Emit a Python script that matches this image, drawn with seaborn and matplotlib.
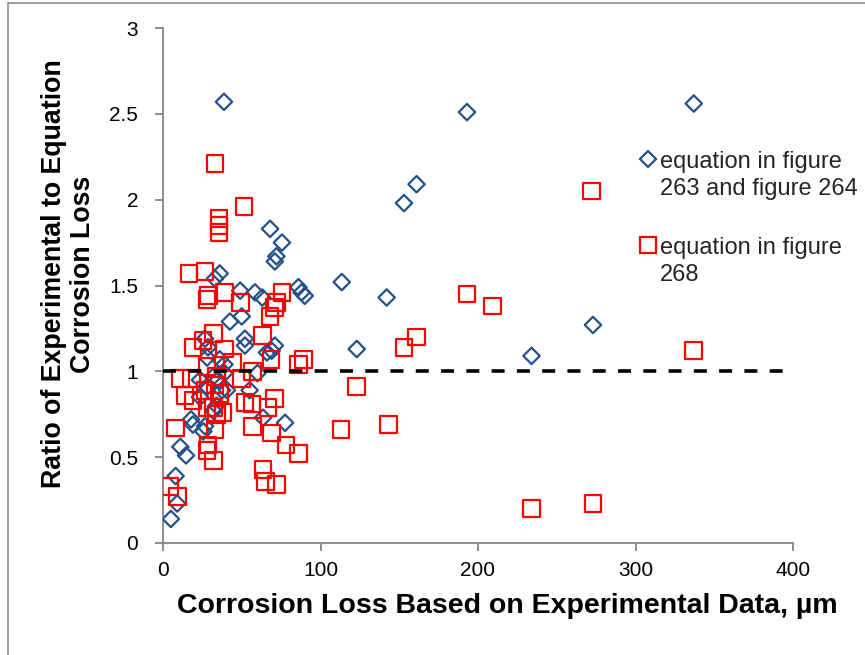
import matplotlib
matplotlib.use("Agg")
import matplotlib.pyplot as plt
import seaborn as sns
from matplotlib.lines import Line2D

# Corrosion loss (µm) and experimental/equation ratio, equation of figures 263 & 264
loss_eq263 = [5, 9, 8, 11, 14.6, 17.8, 19, 25.6, 26.7, 32, 34, 23.5, 28, 37.5, 40.6,
              39, 32, 35, 23.5, 28, 36, 39, 26.7, 28.6, 42.5, 50, 52, 52, 55, 60,
              63.5, 77.5, 66, 69, 71, 33, 36, 49, 58.4, 63, 86, 88, 90, 72, 71,
              75.5, 68, 38.7, 193, 337, 161, 153, 113.5, 142, 123, 273, 234]
ratio_eq263 = [0.14, 0.23, 0.39, 0.56, 0.51, 0.72, 0.69, 0.65, 0.68, 0.77, 0.80, 0.85, 0.91, 0.89, 0.89,
               0.99, 0.97, 0.95, 0.95, 1.08, 1.07, 1.04, 1.19, 1.14, 1.29, 1.32, 1.19, 1.15, 0.89, 0.99,
               0.73, 0.70, 1.11, 1.12, 1.15, 1.54, 1.57, 1.47, 1.46, 1.43, 1.49, 1.46, 1.44, 1.67, 1.64,
               1.75, 1.83, 2.57, 2.51, 2.56, 2.09, 1.98, 1.52, 1.43, 1.13, 1.27, 1.09]

# Corrosion loss (µm) and experimental/equation ratio, equation of figure 268
loss_eq268 = [33, 51.4, 35.6, 35.6, 35.6, 272, 193, 209, 161, 153, 337, 123, 113, 143, 86,
              234, 273, 89, 86, 16.5, 26.7, 29, 28, 39, 75.5, 49, 72, 71, 68, 32,
              25.5, 19, 39, 63, 44, 68.6, 57, 28, 11, 18, 34, 50, 19, 14, 26.7,
              33, 36, 38, 32, 34, 28, 52, 56.5, 71, 66.7, 57, 69, 78, 8, 33,
              28.6, 28, 32, 63.5, 65, 72, 4.4, 9]
ratio_eq268 = [2.21, 1.96, 1.89, 1.85, 1.81, 2.05, 1.45, 1.38, 1.20, 1.14, 1.12, 0.91, 0.66, 0.69, 0.52,
               0.20, 0.23, 1.07, 1.04, 1.57, 1.58, 1.44, 1.42, 1.46, 1.46, 1.40, 1.40, 1.37, 1.32, 1.22,
               1.18, 1.14, 1.13, 1.21, 1.05, 1.07, 1.00, 1.03, 0.96, 0.96, 0.97, 0.96, 0.83, 0.86, 0.89,
               0.92, 0.87, 0.76, 0.79, 0.75, 0.79, 0.82, 0.81, 0.84, 0.79, 0.68, 0.64, 0.57, 0.67, 0.66,
               0.57, 0.54, 0.48, 0.43, 0.36, 0.34, 0.33, 0.27]

series_labels = ["equation in figure\n263 and figure 264", "equation in figure\n268"]
x_ticks = [0, 100, 200, 300, 400]
y_ticks = [0, 0.5, 1, 1.5, 2, 2.5, 3]
reference_ratio = 1.0

sns.set_theme(style="white")
plt.rcParams["font.family"] = ["Liberation Sans", "DejaVu Sans"]

BLUE = "#24508C"
RED = "#FF0000"
GREY = "#868686"

fig = plt.figure(figsize=(8.65, 6.55), dpi=100)
ax = fig.add_axes([163 / 865, 112 / 655, 630 / 865, 515 / 655])

sns.scatterplot(x=loss_eq263, y=ratio_eq263, marker="D", s=70, facecolor="none",
                edgecolor=BLUE, linewidth=1.6, ax=ax, zorder=3)
sns.scatterplot(x=loss_eq268, y=ratio_eq268, marker="s", s=144, facecolor="none",
                edgecolor=RED, linewidth=1.6, ax=ax, zorder=4)
ax.axhline(reference_ratio, color="black", lw=2.6, linestyle=(0, (3.6, 3.4)), zorder=5)

ax.set_xlim(x_ticks[0], x_ticks[-1])
ax.set_ylim(y_ticks[0], y_ticks[-1])
ax.set_xticks(x_ticks, labels=[f"{v:g}" for v in x_ticks])
ax.set_yticks(y_ticks, labels=[f"{v:g}" for v in y_ticks])

for side in ("top", "right"):
    ax.spines[side].set_visible(False)
for side in ("left", "bottom"):
    ax.spines[side].set_color(GREY)
    ax.spines[side].set_linewidth(1.3)
ax.tick_params(axis="both", which="major", direction="out", length=6, width=1.3,
               color=GREY, labelsize=15, labelcolor="black", bottom=True, left=True)
ax.tick_params(axis="y", pad=12)
ax.tick_params(axis="x", pad=7)

ax.set_xlabel("Corrosion Loss Based on Experimental Data, µm", fontsize=20.5,
              fontweight="bold", color="black")
ax.xaxis.set_label_coords((507 - 163) / 630, (543 - 593) / 515)
ax.set_ylabel("")
fig.text(69 / 865, 1 - 274 / 655, "Ratio of Experimental to Equation\nCorrosion Loss",
         rotation=90, ha="center", va="center", multialignment="center",
         fontsize=19.3, fontweight="bold", color="black", linespacing=1.15)

handles = [
    Line2D([], [], linestyle="none", marker="D", markersize=8.4, markerfacecolor="none",
           markeredgecolor=BLUE, markeredgewidth=1.6),
    Line2D([], [], linestyle="none", marker="s", markersize=12, markerfacecolor="none",
           markeredgecolor=RED, markeredgewidth=1.6),
]
leg = ax.legend(handles, series_labels, loc="upper left",
                bbox_to_anchor=((640 - 163) / 630, (543 - 151) / 515),
                frameon=False, fontsize=17, handlelength=0.7, handletextpad=0.15,
                labelspacing=1.55, borderpad=0, borderaxespad=0)
for txt in leg.get_texts():
    txt.set_linespacing(1.3)
# keep each legend key level with the first line of its label
for column in leg._legend_handle_box.get_children():
    for row in column.get_children():
        row.align = "top"

# frame edges of the figure
fig.add_artist(Line2D([8 / 865, 8 / 865], [0, 1 - 3 / 655], transform=fig.transFigure,
                      color="#8c8c8c", lw=1.2))
fig.add_artist(Line2D([8 / 865, 1], [1 - 3 / 655, 1 - 3 / 655], transform=fig.transFigure,
                      color="#8c8c8c", lw=1.2))

fig.savefig("out.png", dpi=100)
